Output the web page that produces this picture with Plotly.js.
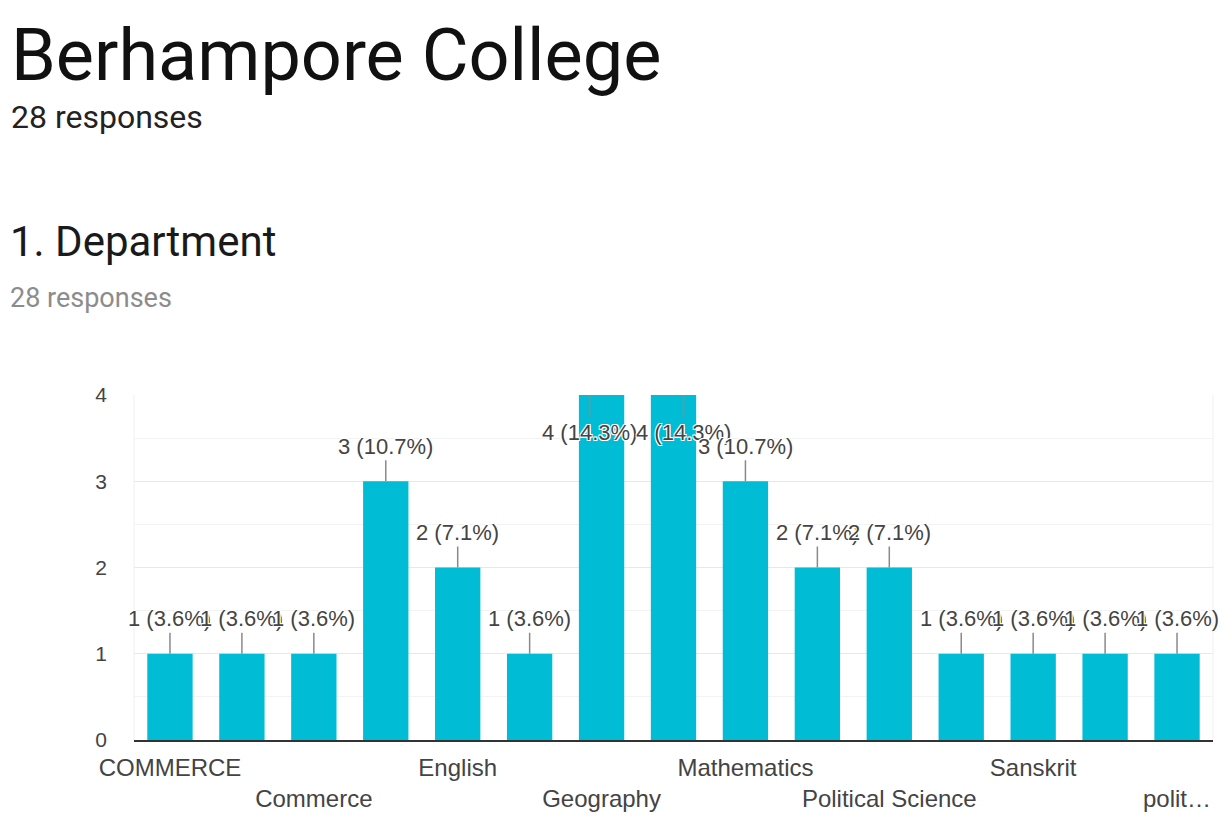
<!DOCTYPE html>
<html>
<head>
<meta charset="utf-8">
<script src="https://cdn.plot.ly/plotly-3.0.1.min.js"></script>
<style>
  html, body { margin: 0; padding: 0; background: #fff; }
  #chart { width: 1226px; height: 822px; }
  #edge { position: absolute; left: 7px; top: 8px; width: 1px; height: 814px; background: #dcdcdc; }
</style>
</head>
<body>
<div id="edge"></div>
<div id="chart"></div>
<script>
// ---- data ----
const categories = ["COMMERCE", "Chemistry", "Commerce", "Economics", "English",
  "Environmental Science", "Geography", "History", "Mathematics", "Philosophy",
  "Political Science", "Psychology", "Sanskrit", "Zoology", "political science"];
const counts = [1, 1, 1, 3, 2, 1, 4, 4, 3, 2, 2, 1, 1, 1, 1];
const shownTicks = ["COMMERCE", "Commerce", "English", "Geography", "Mathematics",
  "Political Science", "Sanskrit", "political science"];
const shownTickText = ["COMMERCE", "Commerce", "English", "Geography", "Mathematics",
  "Political Science", "Sanskrit", "polit…"];
const yTicks = [0, 1, 2, 3, 4];
const totalResponses = 28;

// ---- layout helpers ----
const W = 1226, H = 822;
const M = { l: 134, r: 13, t: 395, b: 82 };
const PW = W - M.l - M.r, PH = H - M.t - M.b;
const px = x => (x - M.l) / PW;
const py = y => (H - M.b - y) / PH;
const yMax = 4;

const halo = "white 1px 1px 0px, white -1px -1px 0px, white 1px -1px 0px, white -1px 1px 0px, white 0px 1px 0px, white 0px -1px 0px";

const labelAnns = categories.map((c, i) => {
  const v = counts[i];
  const pct = (v / totalResponses * 100).toFixed(1);
  const atTop = v >= yMax;
  let shift = 0;
  if (atTop && counts[i + 1] >= yMax) shift = -12;
  else if (atTop && counts[i - 1] >= yMax) shift = 10;
  return {
    x: c, y: Math.min(v, yMax), xref: 'x', yref: 'y',
    text: v + " (" + pct + "%)",
    showarrow: true, arrowhead: 0, arrowwidth: 1.5, arrowcolor: '#8a8a8a',
    ax: 0, ay: atTop ? 37 : -35, xshift: shift,
    font: { family: 'Liberation Sans, Arial, sans-serif', size: 22, color: '#444', shadow: halo }
  };
});

const textAnns = [
  { text: "Berhampore College", x: px(9), y: py(55), size: 72, color: '#111' },
  { text: "28 responses", x: px(9), y: py(117), size: 32, color: '#222' },
  { text: "1. Department", x: px(8), y: py(242), size: 42, color: '#1a1a1a' },
  { text: "28 responses", x: px(8), y: py(298), size: 27, color: '#8c8c8c' }
].map(a => ({
  text: a.text, x: a.x, y: a.y, xref: 'paper', yref: 'paper',
  xanchor: 'left', yanchor: 'middle', showarrow: false,
  font: { family: 'Roboto, sans-serif', size: a.size, color: a.color }
}));

const trace = {
  type: 'bar',
  x: categories,
  y: counts,
  marker: { color: '#00BCD4' },
  hoverinfo: 'x+y',
  cliponaxis: true
};

const layout = {
  width: W, height: H,
  margin: M,
  paper_bgcolor: '#fff', plot_bgcolor: '#fff',
  showlegend: false,
  bargap: 0.37,
  font: { family: 'Liberation Sans, Arial, sans-serif', color: '#444' },
  xaxis: {
    type: 'category',
    categoryorder: 'array', categoryarray: categories,
    range: [-0.5, categories.length - 0.5],
    autorange: false,
    automargin: false,
    tickmode: 'array',
    tickvals: shownTicks,
    ticktext: shownTickText.map((t, i) => i % 2 === 0 ? t : "<br>" + t),
    tickangle: 0,
    tickfont: { size: 24, color: '#444' },
    ticklabelstandoff: 5,
    showgrid: false,
    showline: true, linecolor: '#333', linewidth: 2,
    zeroline: false, fixedrange: true
  },
  yaxis: {
    range: [0, yMax],
    autorange: false,
    automargin: false,
    tickmode: 'array', tickvals: yTicks, ticktext: yTicks.map(String),
    tickfont: { size: 21, color: '#444' },
    ticklabelstandoff: 26,
    showgrid: true, gridcolor: '#e8e8e8', gridwidth: 1,
    minor: { dtick: 0.5, showgrid: true, gridcolor: '#f3f3f3', gridwidth: 1 },
    zeroline: false, showline: false, fixedrange: true
  },
  shapes: [
    { type: 'line', xref: 'paper', yref: 'paper', x0: 0, x1: 0, y0: 0, y1: 1, line: { color: '#f0f0f0', width: 1 } },
    { type: 'line', xref: 'paper', yref: 'paper', x0: 1, x1: 1, y0: 0, y1: 1, line: { color: '#f0f0f0', width: 1 } }
  ],
  annotations: textAnns.concat(labelAnns)
};

Plotly.newPlot('chart', [trace], layout, { displayModeBar: false, staticPlot: true });
</script>
</body>
</html>
